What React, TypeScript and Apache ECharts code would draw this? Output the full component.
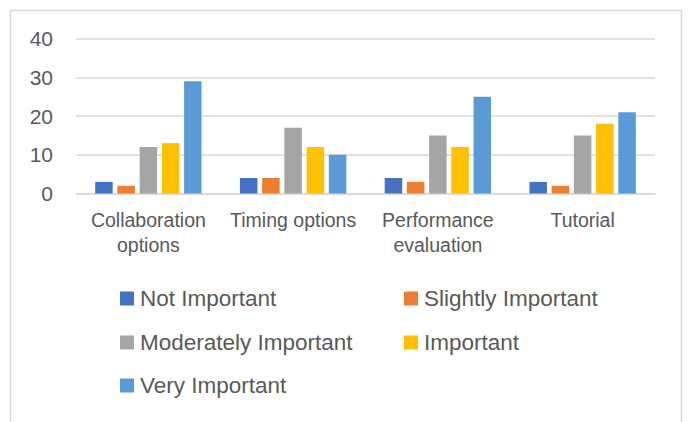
import React, { useEffect, useRef } from "react";
import * as echarts from "echarts";

const categories = ["Collaboration\noptions", "Timing options", "Performance\nevaluation", "Tutorial"];
const seriesNames = ["Not Important", "Slightly Important", "Moderately Important", "Important", "Very Important"];
const notImportant = [3, 4, 4, 3];
const slightlyImportant = [2, 4, 3, 2];
const moderatelyImportant = [12, 17, 15, 15];
const important = [13, 12, 12, 18];
const veryImportant = [29, 10, 25, 21];
const yTicks = [0, 10, 20, 30, 40];

const colors = ["#4472C4", "#ED7D31", "#A5A5A5", "#FFC000", "#5B9BD5"];
const FONT = "'Liberation Sans', Arial, sans-serif";

export default function App() {
  const ref = useRef<HTMLDivElement>(null);
  useEffect(() => {
    if (!ref.current) return;
    const chart = echarts.init(ref.current, null, { renderer: "svg" });
    const values = [notImportant, slightlyImportant, moderatelyImportant, important, veryImportant];
    const legendPos = [
      { left: 115, top: 282 },
      { left: 399, top: 282 },
      { left: 115, top: 326 },
      { left: 399, top: 326 },
      { left: 115, top: 369 },
    ];
    chart.setOption({
      animation: false,
      color: colors,
      textStyle: { fontFamily: FONT },
      grid: { left: 76, right: 33, top: 38.5, height: 155, containLabel: false },
      legend: seriesNames.map((n, i) => ({
        data: [n],
        left: legendPos[i].left,
        top: legendPos[i].top,
        itemWidth: 14,
        itemHeight: 14,
        icon: "rect",
        itemGap: 6,
        selectedMode: false,
        textStyle: { fontSize: 22.5, color: "#595959", fontFamily: FONT, padding: [0, 0, 0, 1] },
      })),
      graphic: [
        {
          type: "rect",
          shape: { x: 10.5, y: 10.5, width: 671, height: 500 },
          style: { fill: "none", stroke: "#d9d9d9", lineWidth: 1.5 },
          silent: true,
        },
      ],
      xAxis: {
        type: "category",
        data: categories,
        axisLine: { show: true, lineStyle: { color: "#d9d9d9", width: 1.5 } },
        axisTick: { show: false },
        axisLabel: { fontSize: 19.5, color: "#595959", lineHeight: 25, margin: 14, fontFamily: FONT, interval: 0 },
      },
      yAxis: {
        type: "value",
        min: yTicks[0],
        max: yTicks[yTicks.length - 1],
        interval: 10,
        axisLine: { show: false },
        axisTick: { show: false },
        splitLine: { lineStyle: { color: "#d9d9d9", width: 1.5 } },
        axisLabel: { fontSize: 21, color: "#595959", margin: 23, fontFamily: FONT },
      },
      series: seriesNames.map((n, i) => ({
        name: n,
        type: "bar",
        data: values[i],
        barWidth: 17.5,
        barGap: "27%",
        itemStyle: { color: colors[i] },
      })),
    });
    return () => chart.dispose();
  }, []);
  return <div ref={ref} style={{ position: "fixed", left: 0, top: 0, width: 688, height: 422, background: "#fff" }} />;
}
